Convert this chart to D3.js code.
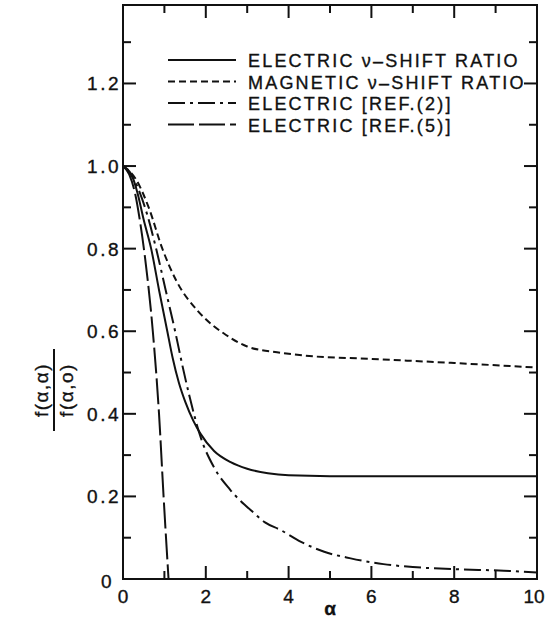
<!DOCTYPE html>
<html>
<head>
<meta charset="utf-8">
<script src="https://cdn.jsdelivr.net/npm/d3@7"></script>
<style>
  body { margin: 0; background: #fff; }
  text { font-family: "Liberation Sans", Arial, sans-serif; fill: #111; stroke: #111; stroke-width: 0.35px; }
</style>
</head>
<body>
<div id="chart"></div>
<script>
// f(a,alpha)/f(a,0) ratio curves vs alpha

const alphaElectric = [0, 0.2, 0.35, 0.5, 0.68, 0.87, 1.07, 1.2, 1.35, 1.5, 1.7, 1.87, 2.2, 2.6, 3.0, 3.5, 4, 5, 7, 10];
const electric      = [1.0, 0.98, 0.935, 0.87, 0.8, 0.7, 0.6, 0.535, 0.475, 0.43, 0.383, 0.352, 0.31, 0.283, 0.267, 0.256, 0.251, 0.249, 0.249, 0.249];

const alphaMagnetic = [0, 0.3, 0.62, 0.95, 1.3, 1.8, 2.1, 2.43, 3.0, 3.8, 4.5, 6, 8, 10];
const magnetic      = [1.0, 0.97, 0.9, 0.8, 0.72, 0.65, 0.62, 0.595, 0.563, 0.548, 0.54, 0.533, 0.523, 0.512];

const alphaRef2 = [0, 0.25, 0.54, 0.81, 1.03, 1.27, 1.45, 1.6, 1.87, 2.2, 2.59, 3.16, 3.43, 3.8, 4.3, 4.86, 5.5, 6.29, 7, 8, 9.2, 10];
const ref2      = [1.0, 0.97, 0.897, 0.796, 0.7, 0.595, 0.51, 0.445, 0.345, 0.27, 0.216, 0.16, 0.137, 0.119, 0.09, 0.066, 0.05, 0.036, 0.029, 0.024, 0.02, 0.016];

const alphaRef5 = [0, 0.15, 0.3, 0.42, 0.53, 0.72, 0.87, 0.98, 1.1];
const ref5      = [1.0, 0.98, 0.93, 0.86, 0.78, 0.6, 0.4, 0.2, 0.0];

const xTicks = [0, 2, 4, 6, 8, 10];
const yTicks = [0, 0.2, 0.4, 0.6, 0.8, 1.0, 1.2];

const seriesNames = ['ELECTRIC \u03bd\u2013SHIFT RATIO', 'MAGNETIC \u03bd\u2013SHIFT RATIO', 'ELECTRIC [REF.(2)]', 'ELECTRIC [REF.(5)]'];
const dashes = [null, '7,4', '17,5,3,5', '26,5'];

const W = 546, H = 620;
const margin = {top: 5, right: 9, bottom: 41, left: 123};
const width = W - margin.left - margin.right;
const height = H - margin.top - margin.bottom;

const svg = d3.select('#chart').append('svg')
	.attr('width', W)
	.attr('height', H);

const g = svg.append('g')
	.attr('transform', `translate(${margin.left},${margin.top})`);

const x = d3.scaleLinear().domain([0, 10]).range([0, width]);
const y = d3.scaleLinear().domain([0, 1.39]).range([height, 0]);

// frame
g.append('rect')
	.attr('width', width).attr('height', height)
	.attr('fill', 'none').attr('stroke', '#111').attr('stroke-width', 2);

// inward ticks on all four sides
const xMinor = d3.range(1, 10, 2);
const yMinor = d3.range(0.1, 1.35, 0.2);
const major = 13, minor = 8;

function tickLines(sel, vals, len, side) {
	sel.selectAll(null).data(vals).enter().append('line')
		.attr('stroke', '#111').attr('stroke-width', 2)
		.attr('x1', d => side === 'b' || side === 't' ? x(d) : (side === 'l' ? 0 : width))
		.attr('x2', d => side === 'b' || side === 't' ? x(d) : (side === 'l' ? len : width - len))
		.attr('y1', d => side === 'l' || side === 'r' ? y(d) : (side === 'b' ? height : 0))
		.attr('y2', d => side === 'l' || side === 'r' ? y(d) : (side === 'b' ? height - len : len));
}
const ticksG = g.append('g');
tickLines(ticksG, xTicks.slice(1, -1), major, 'b');
tickLines(ticksG, xMinor, minor, 'b');
tickLines(ticksG, xTicks.slice(1, -1), major, 't');
tickLines(ticksG, xMinor, minor, 't');
tickLines(ticksG, yTicks.slice(1), major, 'l');
tickLines(ticksG, yMinor, minor, 'l');
tickLines(ticksG, yTicks.slice(1), major, 'r');
tickLines(ticksG, yMinor, minor, 'r');

// tick labels
g.selectAll('.xl').data(xTicks).enter().append('text')
	.attr('x', d => d === 10 ? x(d) - 3 : x(d)).attr('y', height + 24)
	.attr('text-anchor', 'middle')
	.style('font-size', '19px')
	.text(d => d);

g.selectAll('.yl').data(yTicks).enter().append('text')
	.attr('x', d => d === 0 ? -9 : -2)
	.attr('y', d => y(d) + (d === 0 ? 9 : 7))
	.attr('text-anchor', 'end')
	.style('font-size', '19px').style('letter-spacing', '2.5px')
	.text(d => d === 0 ? '0' : d.toFixed(1));

// axis titles
g.append('text')
	.attr('x', x(5)).attr('y', height + 36)
	.attr('text-anchor', 'middle')
	.style('font-size', '19px').style('font-weight', 'bold')
	.text('\u03b1');

const yt = svg.append('g').attr('transform', 'translate(54,390) rotate(-90)');
yt.append('text').attr('x', 0).attr('y', -6).attr('text-anchor', 'middle')
	.style('font-size', '19px').style('letter-spacing', '1.5px').text('f(\u03b1,\u03b1)');
yt.append('line').attr('x1', -41).attr('x2', 41).attr('y1', 0).attr('y2', 0)
	.attr('stroke', '#111').attr('stroke-width', 2);
yt.append('text').attr('x', 0).attr('y', 19).attr('text-anchor', 'middle')
	.style('font-size', '19px').style('letter-spacing', '1.5px').text('f(\u03b1,o)');

// curves
const series = [
	alphaElectric.map((a, i) => [a, electric[i]]),
	alphaMagnetic.map((a, i) => [a, magnetic[i]]),
	alphaRef2.map((a, i) => [a, ref2[i]]),
	alphaRef5.map((a, i) => [a, ref5[i]])
];

const line = d3.line()
	.x(d => x(d[0]))
	.y(d => y(d[1]))
	.curve(d3.curveMonotoneX);

g.selectAll('.curve').data(series).enter().append('path')
	.attr('d', line)
	.attr('fill', 'none')
	.attr('stroke', '#111')
	.attr('stroke-width', 2)
	.attr('stroke-dasharray', (d, i) => dashes[i]);

// legend
const legend = svg.append('g').attr('transform', 'translate(168,61)');
const item = legend.selectAll('.item').data(seriesNames).enter().append('g')
	.attr('transform', (d, i) => `translate(0,${i * 21.5})`);
item.append('line')
	.attr('x1', 0).attr('x2', 68).attr('y1', -1).attr('y2', -1)
	.attr('stroke', '#111').attr('stroke-width', 2)
	.attr('stroke-dasharray', (d, i) => dashes[i]);
item.append('text')
	.attr('x', 80).attr('y', 6)
	.style('font-size', '18px').style('letter-spacing', '2.2px')
	.text(d => d);
</script>
</body>
</html>
